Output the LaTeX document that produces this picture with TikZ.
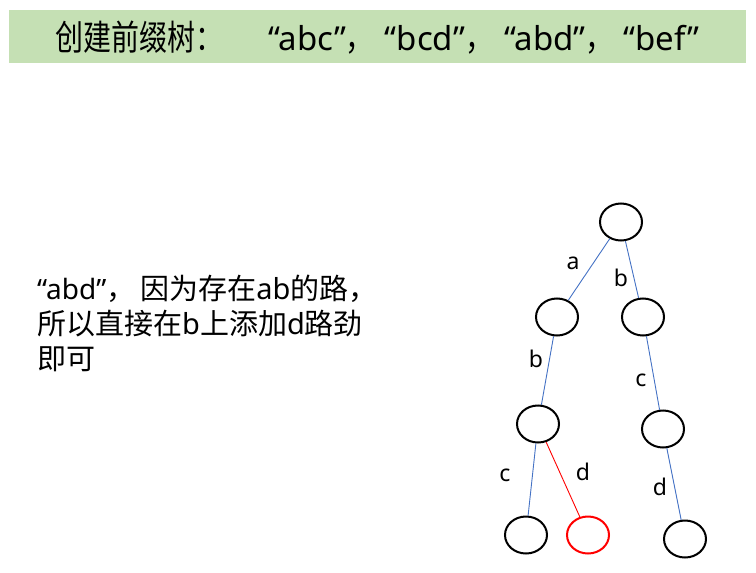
\documentclass[tikz,border=0pt]{standalone}
\usepackage{fontspec}
\setmainfont{Noto Sans CJK SC}
\newfontfamily\titlecjk[FakeStretch=0.8]{Noto Sans CJK SC}
\newfontfamily\latin{Noto Sans}
\usetikzlibrary{shapes.geometric}
\definecolor{bannergreen}{HTML}{C5E0B4}
\definecolor{edgeblue}{HTML}{4472C4}
\newcommand{\tq}[1]{{\latin\fontsize{33}{40}\selectfont “#1”}}
\tikzset{
  trienode/.style={ellipse, draw, line width=2pt, minimum width=42pt, minimum height=37pt, inner sep=0pt},
  newnode/.style={trienode, draw=red},
  edgelbl/.style={font=\latin\fontsize{23}{26}\selectfont},
  trieedge/.style={draw=edgeblue, line width=0.9pt},
  newedge/.style={draw=red, line width=0.9pt}
}
\begin{document}
\begin{tikzpicture}[x=1pt,y=-1pt]
\useasboundingbox (0,0) rectangle (756,573);
  % Draw title banner
  \fill[bannergreen] (9,10) rectangle (746,63);
  \node[anchor=base west, inner sep=0pt, font=\fontsize{35}{40}\selectfont] (title) at (55,50)
        {{\titlecjk 创建前缀树：}\hspace{45pt}\tq{abc}{\titlecjk ，}\hspace{11pt}\tq{bcd}{\titlecjk ，}\hspace{11pt}\tq{abd}{\titlecjk ，}\hspace{10pt}\tq{bef}};
  % Draw note
  \node[anchor=north west, inner sep=0pt, align=left, font=\fontsize{29}{35}\selectfont] (note) at (37,275)
        {{\latin\fontsize{28}{35}\selectfont “abd”}，\hspace{5pt}因为存在{\latin ab}的路，\\所以直接在{\latin b}上添加{\latin d}路劲\\即可};
  % Draw trie nodes
  \node[trienode] (root) at (621,222) {};
  \node[trienode] (na) at (557,317) {};
  \node[trienode] (nb) at (643,317) {};
  \node[trienode] (nab) at (538,424) {};
  \node[trienode] (nbc) at (663,429) {};
  \node[trienode] (nabc) at (526,535) {};
  \node[newnode] (nabd) at (588,535) {};
  \node[trienode] (nbcd) at (685,539) {};
  % Draw edges
  \foreach \from/\to in {root/na,root/nb,na/nab,nb/nbc,nab/nabc,nbc/nbcd}
    \draw[trieedge] (\from) -- (\to);
  \draw[newedge] (nab) -- (nabd);
  % Draw edge labels
  \foreach \x/\y/\val [count=\i] in {573/263/a,621/278/b,536/359/b,641/380/c,505/475/c,583/472/d,660/487/d}
    \node[edgelbl] (lbl\i) at (\x,\y) {\val};
\end{tikzpicture}
\end{document}
